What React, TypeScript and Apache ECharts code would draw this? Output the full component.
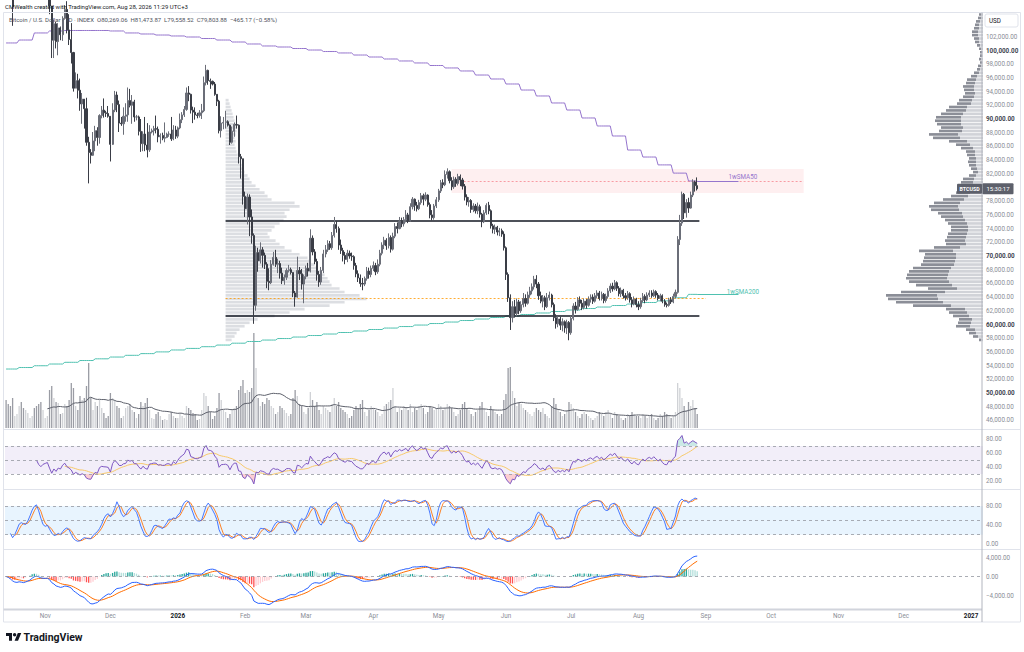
import React, { useEffect, useRef } from "react";
import * as echarts from "echarts";

// ---------- DATA (prices in thousands of USD, daily from 2025-10-14) ----------
const FIRST_DAY_UTC = Date.UTC(2025, 9, 14);
const DAY_COUNT = 450; // category slots up to 2027-01-06
const FIRST_OPEN_K = 115.2;

const closeK = [
  113.0,110.8,108.2,106.4,107.2,108.6,110.5,108.4,107.6,110.1,111.0,111.6,114.5,114.1,112.9,110.0,108.3,109.6,
  110.1,110.6,106.5,101.5,103.9,101.3,103.3,102.3,104.7,106.0,103.0,101.6,99.7,94.5,95.6,94.2,92.2,92.9,91.5,86.6,85.1,84.7,86.8,88.3,87.3,90.5,91.3,90.9,90.8,90.4,
  86.3,91.3,93.5,92.1,89.4,89.3,90.4,90.6,92.7,92.0,92.5,90.3,90.3,88.2,86.4,87.8,86.2,85.5,88.1,88.3,88.6,88.5,87.4,87.6,87.2,87.3,87.8,87.8,87.1,88.4,87.5,
  88.7,89.9,90.6,91.4,93.8,93.6,91.3,91.0,90.6,90.5,90.9,91.2,95.3,97.1,95.6,95.5,95.1,93.6,92.6,88.3,89.4,89.5,89.6,89.1,86.6,88.2,89.2,89.1,84.5,84.2,78.7,
  76.9,78.6,75.7,73.0,62.8,70.5,69.3,70.9,70.1,68.8,66.3,66.1,68.8,69.8,68.8,68.9,67.5,66.4,66.9,67.9,68.0,67.6,64.6,64.0,67.9,67.4,65.9,67.0,
  68.2,67.8,72.6,70.6,69.2,67.3,66.2,67.9,70.3,70.9,71.8,71.2,73.0,74.6,74.0,71.6,70.8,70.1,69.5,70.4,70.0,69.9,68.6,67.4,66.8,66.0,65.9,66.7,67.8,67.3,68.2,
  68.6,67.7,68.8,70.4,71.6,72.3,71.5,72.7,71.0,72.9,74.3,74.0,75.1,74.7,75.3,76.0,75.2,77.2,78.3,77.4,76.9,77.8,78.8,78.3,78.9,77.5,76.0,75.6,77.3,78.2,
  79.5,80.7,80.4,81.9,82.3,81.0,80.1,81.2,80.6,81.6,81.1,80.2,78.6,77.9,78.1,76.8,77.3,76.6,77.2,76.1,75.0,76.3,77.4,76.6,74.4,73.9,74.2,73.5,73.7,73.2,71.2,
  67.3,63.9,61.0,62.6,61.6,63.3,62.0,62.9,63.8,63.1,64.3,64.9,65.5,66.6,65.9,64.2,63.4,63.9,62.6,63.9,64.3,62.9,61.0,60.1,60.8,59.9,60.4,59.5,60.3,58.8,
  60.9,62.7,62.2,63.6,63.1,62.5,63.4,62.8,63.7,64.0,63.4,64.2,64.6,63.8,64.4,63.5,64.1,64.9,65.6,65.2,66.1,65.3,64.5,65.0,64.2,63.9,64.5,63.6,63.0,63.7,62.9,
  62.6,63.5,64.1,63.6,64.3,64.6,64.2,64.8,64.3,63.8,64.2,63.4,62.9,62.8,63.6,63.3,64.1,64.7,72.4,74.8,79.0,76.3,77.8,77.0,78.9,80.8,80.26906,79.80388,
];
const highK = [
  115.9,113.6,111.0,109.2,107.5,109.4,111.7,114.0,109.1,110.9,112.0,111.9,115.0,116.1,116.0,113.6,111.6,111.1,
  110.6,111.2,110.7,106.5,104.5,104.2,104.0,103.5,105.0,106.6,107.2,105.3,104.0,99.8,96.8,96.6,95.9,93.8,92.9,93.1,87.4,85.6,88.1,89.0,88.8,90.7,91.9,93.0,91.2,91.9,
  90.4,92.3,94.1,94.0,92.7,90.3,91.7,92.3,94.6,94.4,93.5,92.8,90.6,90.5,90.0,88.2,90.3,89.4,89.1,88.6,89.0,90.5,88.9,87.9,88.0,89.5,88.0,88.2,90.3,89.1,89.0,
  88.9,90.8,91.0,91.9,94.6,94.8,93.7,91.8,91.7,90.9,91.3,92.2,96.2,97.9,97.2,95.9,95.6,95.4,93.5,92.8,90.4,90.3,91.2,89.8,89.2,88.9,89.5,90.5,89.2,84.9,84.1,
  79.4,79.1,79.0,76.8,73.3,71.5,71.2,72.0,71.3,70.5,69.1,68.2,69.4,70.6,70.9,69.6,69.3,68.3,67.3,68.2,68.7,68.3,67.6,64.9,69.9,68.4,68.1,67.3,
  68.6,69.0,73.9,73.0,71.0,69.6,67.8,68.4,70.9,71.6,72.3,72.2,73.5,75.7,75.1,74.3,72.4,71.2,70.6,70.9,70.8,70.5,70.1,69.0,67.9,67.3,66.8,67.0,68.4,68.3,68.6,
  69.2,69.0,69.5,70.9,72.0,72.8,72.6,73.3,73.0,73.4,74.8,74.9,75.7,75.6,75.7,76.7,76.3,77.7,78.6,78.4,77.9,78.2,79.2,79.1,79.3,79.0,77.8,76.7,77.6,78.6,
  79.8,81.1,81.2,82.5,82.8,82.5,81.5,81.6,81.5,82.0,81.9,81.4,80.5,79.0,78.6,78.3,77.7,77.6,77.8,77.5,76.3,76.7,77.7,77.9,76.8,74.7,74.6,74.4,74.1,74.0,73.6,
  71.4,67.6,64.4,63.4,63.6,63.8,63.6,63.4,64.6,64.4,64.8,65.5,66.0,67.1,67.2,66.2,64.8,64.3,64.2,64.6,64.8,64.5,63.2,61.5,61.2,61.1,60.9,60.6,60.7,60.5,
  61.3,63.1,63.3,64.0,64.1,63.6,63.8,63.7,64.1,64.4,64.4,64.6,65.0,64.9,64.8,64.6,64.5,65.3,66.0,66.1,66.5,66.3,65.6,65.4,65.2,64.6,64.9,64.7,64.0,64.1,63.9,
  63.4,63.9,64.6,64.4,64.7,65.0,65.0,65.1,65.0,64.6,64.5,64.4,63.7,63.2,63.9,64.0,64.5,65.1,72.9,76.0,79.4,79.2,78.3,78.5,79.4,81.2,81.0,81.47387,
];
const lowK = [
  110.2,110.2,107.5,103.6,106.3,106.1,107.5,107.4,106.7,107.5,109.6,110.8,111.3,113.9,112.3,109.5,106.3,108.0,
  109.4,109.8,105.3,98.9,98.9,100.3,99.3,101.5,101.4,104.5,102.5,100.8,98.1,94.0,94.6,93.0,91.2,89.3,88.6,86.1,80.6,83.5,84.6,85.3,86.1,86.4,90.1,90.2,90.3,90.2,
  83.8,86.2,91.0,91.0,88.1,89.0,87.7,89.6,89.6,91.7,89.3,89.6,89.8,87.6,85.2,85.3,85.3,84.4,85.2,87.9,87.6,87.9,86.6,86.4,86.9,86.6,87.2,87.4,86.8,86.9,87.1,
  87.2,88.5,89.4,90.3,91.2,92.6,90.8,89.4,89.9,90.1,90.2,90.0,91.0,94.9,95.0,94.4,94.9,93.4,91.9,87.9,87.3,88.5,88.6,88.9,86.2,86.4,87.4,88.6,83.5,81.3,77.5,
  75.7,74.6,72.9,71.8,60.1,62.0,67.7,68.9,68.3,68.1,65.3,65.0,65.9,68.6,68.4,67.5,66.7,65.9,65.8,66.5,67.6,67.3,64.0,62.6,63.9,66.5,65.1,63.1,
  66.6,67.0,67.6,70.1,68.8,66.4,65.5,65.8,67.5,69.8,70.6,70.9,70.9,72.7,73.4,70.9,70.3,69.2,68.8,69.1,69.6,69.3,68.0,66.9,66.2,65.5,65.0,65.6,66.4,66.7,66.9,
  67.8,67.2,67.4,68.5,70.1,71.0,70.9,71.1,70.5,70.8,72.6,73.3,73.9,74.2,74.3,74.9,74.8,75.0,76.8,76.6,76.5,76.7,77.5,77.4,78.0,77.2,75.5,75.2,75.3,77.0,
  77.9,79.2,79.9,80.2,81.3,80.6,79.6,79.8,80.1,80.3,80.2,79.7,78.1,77.4,77.2,76.3,76.4,76.2,76.1,75.6,74.2,74.8,76.0,76.1,74.0,73.3,73.2,73.0,72.9,72.8,70.8,
  66.5,63.3,59.2,60.3,61.0,61.2,61.5,61.7,62.5,62.6,62.9,63.9,64.4,65.1,65.3,63.6,63.1,62.5,62.1,62.4,63.5,62.5,60.5,59.4,59.6,59.2,59.0,58.8,58.6,57.7,
  58.5,60.6,61.6,62.0,62.6,62.1,62.2,62.3,62.6,63.2,63.0,63.2,63.8,63.5,63.5,63.1,63.2,63.8,64.6,64.8,65.0,64.9,64.1,64.0,63.8,63.5,63.6,63.2,62.5,62.8,62.5,
  62.1,62.3,63.2,63.1,63.4,64.0,63.9,64.0,63.9,63.5,63.4,63.1,62.6,62.5,62.6,63.0,63.1,63.8,64.5,71.6,74.4,75.4,75.6,76.3,76.9,78.6,79.4,79.55852,
];
// relative daily volume
const volume = [
  28,24,22,30,12,14,22,26,20,18,15,10,12,20,22,24,26,18,
  10,12,38,42,30,26,25,14,15,24,22,28,45,40,22,18,32,28,30,42,65,30,18,26,22,28,20,15,10,12,
  35,30,28,22,20,10,12,20,22,24,18,16,10,14,26,22,25,30,18,10,9,14,16,12,8,9,8,14,16,12,10,
  10,14,12,10,22,20,18,15,14,8,9,18,35,32,22,16,9,12,20,35,28,18,16,10,14,18,20,22,38,42,48,
  35,38,36,40,95,60,30,22,26,24,30,28,22,20,14,16,22,20,18,15,12,14,30,38,32,24,22,16,
  14,20,36,28,22,26,18,14,22,20,18,16,24,30,22,26,20,18,16,14,10,12,18,22,20,24,28,16,12,18,22,
  20,18,16,12,14,22,24,26,28,40,22,16,20,18,22,20,18,24,16,20,18,22,24,20,14,16,22,20,18,20,
  24,22,18,20,24,22,20,16,12,14,18,24,26,20,18,14,12,16,18,22,26,20,16,12,22,18,16,14,12,14,28,
  34,60,61,37,30,22,25,24,20,18,16,14,12,16,20,18,16,20,14,12,10,22,30,24,18,16,12,14,18,26,
  24,20,16,12,10,14,16,14,12,10,8,10,12,16,14,12,16,18,14,10,16,14,12,10,8,10,14,12,16,14,12,
  12,10,14,12,10,12,14,10,8,10,14,12,16,14,12,10,12,16,45,40,30,22,18,26,22,28,20,14,
];
// weekly SMA values (thousands), one per week starting Mon 2025-10-13
const sma50Weekly = [
  101.10,101.53,102.56,102.85,102.92,102.92,102.92,102.85,102.56,102.41,
  102.26,102.12,101.97,101.75,101.53,101.24,100.95,100.66,100.51,100.29,
  100.07,99.85,99.64,99.34,99.05,98.76,98.47,98.18,97.81,97.45,
  97.01,96.42,95.84,95.11,94.23,93.36,92.34,91.31,90.15,88.98,
  87.52,85.47,84.45,83.30,82.10,80.95,
];
const sma200Weekly = [
  53.50,53.72,53.98,54.23,54.48,54.74,54.99,55.25,55.50,55.75,
  56.00,56.28,56.51,56.76,57.00,57.27,57.52,57.73,57.95,58.17,
  58.39,58.61,58.83,59.05,59.27,59.48,59.70,59.92,60.14,60.36,
  60.58,60.80,61.02,61.24,61.46,61.68,61.90,62.11,62.33,62.55,
  62.77,62.99,63.21,63.45,63.90,64.40,
];
// visible-range volume profile (right), rows of 500 USD starting at 57,500
const VP_ROW_MIN = 44000;
const VP_ROW_SIZE = 500;
const VP_ROW_COUNT = 124;
const vpRightFirst = 57500;
const vpRightTotal = [
  4,10,14,17,27,25,24,30,34,37, 70,87,95,97,82,55,67,74,77,76,
  74,70,62,60,59,58,64,49,37,38, 36,35,32,32,35,38,42,45,52,54,
  49,40,32,27,25,24,22,20,14,10, 12,14,15,14,16,17,22,27,34,50,
  54,44,42,46,48,47,42,37,34,26, 24,20,18,19,20,17,16,12,9,6,
  5,3,4,3,3,4,6,8,9,11, 11,9,8,7,5,4,
];
const vpRightUp = [
  2,5,7,8,13,12,11,14,16,18, 32,40,45,46,38,26,31,34,36,35,
  34,32,29,28,27,27,30,23,17,18, 17,16,15,15,16,18,20,21,24,25,
  23,19,15,13,12,11,10,9,7,5, 6,7,7,7,8,8,10,13,16,23,
  25,21,20,22,22,22,20,17,16,12, 11,9,8,9,9,8,7,6,4,3,
  2,1,2,1,1,2,3,4,4,5, 5,4,4,3,2,2,
];
// anchored volume profile (left, from 2026-01-23), rows of 500 USD from 57,500
const vpLeftFirst = 57500;
const vpLeft = [
  6,9,11,14,19,24,32,49,64,79, 104,119,141,134,119,114,106,104,102,99,
  96,92,89,84,82,74,66,59,54,50, 44,42,46,49,54,58,61,59,64,74,
  69,46,42,39,34,30,26,24,22,19, 17,16,15,14,12,11,10,9,10,9,
  10,11,11,10,9,8,7,6,5,4, 3,
];
// drawn levels
const levelFrom = "2026-01-23";
const levelTo = "2026-08-29";
const resistance = 75110;
const support = 61240;
const pocLevel = 63870;
const pocTo = "2026-09-01";
const zoneFrom = "2026-05-07";
const zoneTo = "2026-10-16";
const zoneTop = 82700;
const zoneBottom = 79200;
const zoneMid = 80900;
const smaLineTo = "2026-09-16";
const smaLabelAt = "2026-09-18";
const sma50Label = { text: "1wSMA50", value: 80950, labelValue: 81530 };
const sma200Label = { text: "1wSMA200", value: 64400, labelValue: 64750 };

// ---------- helpers ----------
const MONTHS = ["Jan","Feb","Mar","Apr","May","Jun","Jul","Aug","Sep","Oct","Nov","Dec"];
const dates: string[] = Array.from({ length: DAY_COUNT }, (_, i) =>
  new Date(FIRST_DAY_UTC + i * 86400000).toISOString().slice(0, 10)
);
const LAST_CLOSE = closeK[closeK.length - 1] * 1000;

function ema(src: number[], n: number): number[] {
  const k = 2 / (n + 1);
  const out: number[] = [];
  src.forEach((v, i) => out.push(i === 0 ? v : v * k + out[i - 1] * (1 - k)));
  return out;
}
function sma(src: (number | null)[], n: number): (number | null)[] {
  return src.map((_, i) => {
    if (i < n - 1) return null;
    const w = src.slice(i - n + 1, i + 1);
    if (w.some((x) => x == null)) return null;
    return (w as number[]).reduce((a, b) => a + b, 0) / n;
  });
}
function rsi(c: number[], n = 14): (number | null)[] {
  const out: (number | null)[] = new Array(c.length).fill(null);
  let g = 0, l = 0;
  for (let i = 1; i < c.length; i++) {
    const d = c[i] - c[i - 1];
    const up = Math.max(d, 0), dn = Math.max(-d, 0);
    if (i <= n) {
      g += up; l += dn;
      if (i === n) { g /= n; l /= n; out[i] = l === 0 ? 100 : 100 - 100 / (1 + g / l); }
    } else {
      g = (g * (n - 1) + up) / n; l = (l * (n - 1) + dn) / n;
      out[i] = l === 0 ? 100 : 100 - 100 / (1 + g / l);
    }
  }
  return out;
}
function stochRaw(c: number[], h: number[], l: number[], n = 14): number[] {
  return c.map((v, i) => {
    const s = Math.max(0, i - n + 1);
    const hh = Math.max(...h.slice(s, i + 1));
    const ll = Math.min(...l.slice(s, i + 1));
    return hh === ll ? 50 : (100 * (v - ll)) / (hh - ll);
  });
}
const fmt2 = (v: number) => v.toLocaleString("en-US", { minimumFractionDigits: 2, maximumFractionDigits: 2 });

const LOGO_D = "M14 22H7V11H0V4h14v18zM28 22h-8l7.5-18h8L28 22zM24 8a4 4 0 1 1-8 0a4 4 0 1 1 8 0z";
let logoReady = false;
function ensureLogo() {
  if (logoReady) return;
  echarts.graphic.registerShape("tvlogo", (echarts.graphic as any).extendPath(LOGO_D, {}));
  logoReady = true;
}

const FONT = "Roboto";
const LABEL_GREY = "#8a8d96";
const PLOT_L = 5;
const PLOT_W = 978;
const BAND = PLOT_W / DAY_COUNT;
const MAIN_TOP = 9.4;
const MAIN_H = 424.7;

function buildOption() {
  const close = closeK.map((v) => v * 1000);
  const open = close.map((_, i) => (i === 0 ? FIRST_OPEN_K * 1000 : close[i - 1]));
  const high = highK.map((v, i) => Math.max(v * 1000, open[i], close[i]));
  const low = lowK.map((v, i) => Math.min(v * 1000, open[i], close[i]));
  const candles = close.map((c, i) => [open[i], c, low[i], high[i]]);

  const volItems = volume.map((v, i) => ({
    value: v,
    itemStyle: { color: close[i] >= open[i] ? "rgba(170,173,181,0.55)" : "rgba(120,123,134,0.75)" },
  }));
  const volMa = sma(volume, 20);

  const sma50 = close.map((_, i) => sma50Weekly[Math.floor((i + 1) / 7)] * 1000);
  const sma200 = close.map((_, i) => sma200Weekly[Math.floor((i + 1) / 7)] * 1000);

  const r = rsi(close);
  const rMa = sma(r, 14);
  const obBase = r.map((v) => (v == null ? null : 70));
  const obFill = r.map((v) => (v == null ? null : Math.max(0, v - 70)));
  const osBase = r.map((v) => (v == null ? null : Math.min(v, 30)));
  const osFill = r.map((v) => (v == null ? null : 30 - Math.min(v, 30)));

  const k = sma(stochRaw(close, high, low), 3);
  const d = sma(k, 3);

  const e12 = ema(close, 12);
  const e26 = ema(close, 26);
  const macd = e12.map((v, i) => v - e26[i]);
  const signal = ema(macd, 9);
  const hist = macd.map((v, i) => v - signal[i]);
  const histItems = hist.map((h, i) => {
    const prev = i === 0 ? 0 : hist[i - 1];
    const color = h >= 0 ? (h >= prev ? "#26a69a" : "#b2dfdb") : h < prev ? "#ff5252" : "#ffcdd2";
    return { value: h, itemStyle: { color } };
  });

  const rows = Array.from({ length: VP_ROW_COUNT }, (_, i) => String(VP_ROW_MIN + i * VP_ROW_SIZE));
  const toRows = (first: number, vals: number[]) => {
    const out: (number | null)[] = new Array(VP_ROW_COUNT).fill(null);
    const off = (first - VP_ROW_MIN) / VP_ROW_SIZE;
    vals.forEach((v, i) => (out[off + i] = v));
    return out;
  };
  const vpUpRows = toRows(vpRightFirst, vpRightUp);
  const vpDownRows = toRows(vpRightFirst, vpRightTotal.map((t, i) => t - vpRightUp[i]));
  const vpLeftRows = toRows(vpLeftFirst, vpLeft);

  const leftAnchor = PLOT_L + (dates.indexOf(levelFrom) + 0.5) * BAND;

  const catAxis = (gridIndex: number) => ({
    type: "category", gridIndex, data: dates, boundaryGap: true,
    axisLine: { show: false }, axisTick: { show: false }, axisLabel: { show: false }, splitLine: { show: false },
  });
  const rightAxis = (gridIndex: number, min: number, max: number, interval: number, fmt: (v: number) => string) => ({
    type: "value", gridIndex, position: "right", min, max, interval, scale: false,
    axisLine: { show: false }, axisTick: { show: false }, splitLine: { show: false },
    axisLabel: { fontSize: 6.3, color: LABEL_GREY, margin: 3, fontFamily: FONT, formatter: fmt },
  });
  const dashed = { color: "#9598a1", type: [3, 3] as any, width: 1, opacity: 0.8 };

  const grid = (top: number, height: number, left = PLOT_L, width = PLOT_W) => ({ left, top, width, height });

  const priceLabel = (v: number) => {
    if (v < 46000 || v > 102000) return "";
    if (Math.abs(v - LAST_CLOSE) < 1200) return ""; // hidden behind the last-price tag
    const s = fmt2(v);
    return v % 10000 === 0 ? `{b|${s}}` : s;
  };

  return {
    animation: false,
    backgroundColor: "#ffffff",
    textStyle: { fontFamily: FONT },
    grid: [
      grid(MAIN_TOP, MAIN_H),
      grid(328, 100),
      grid(425, 70),
      grid(496.4, 47.9),
      grid(538.5, 76),
      grid(560, 49),
      grid(MAIN_TOP, MAIN_H),
      grid(MAIN_TOP, MAIN_H, leftAnchor, PLOT_L + PLOT_W - leftAnchor),
    ],
    xAxis: [
      catAxis(0), catAxis(1), catAxis(2), catAxis(3), catAxis(4),
      {
        ...catAxis(5),
        axisLabel: {
          show: true, margin: 3.5, fontSize: 6.3, color: LABEL_GREY, fontFamily: FONT,
          interval: (_: number, v: string) => v.slice(8) === "01",
          formatter: (v: string) => {
            const m = Number(v.slice(5, 7));
            return m === 1 ? `{y|${v.slice(0, 4)}}` : MONTHS[m - 1];
          },
          rich: { y: { fontSize: 6.3, fontWeight: "bold", color: "#131722", fontFamily: FONT } },
        },
      },
      { type: "value", gridIndex: 6, inverse: true, min: 0, max: PLOT_W, show: false },
      { type: "value", gridIndex: 7, min: 0, max: PLOT_L + PLOT_W - leftAnchor, show: false },
    ],
    yAxis: [
      {
        ...rightAxis(0, 44000, 106000, 2000, priceLabel),
        axisLabel: {
          fontSize: 6.3, color: LABEL_GREY, margin: 3, fontFamily: FONT,
          formatter: priceLabel,
          rich: { b: { fontSize: 6.3, fontWeight: "bold", color: "#434651", fontFamily: FONT } },
        },
      },
      { type: "value", gridIndex: 1, min: 0, max: 100, show: false },
      rightAxis(2, 0, 100, 20, (v: number) => (v <= 0 || v >= 100 ? "" : fmt2(v))),
      rightAxis(3, 0, 100, 40, (v: number) => (v >= 100 ? "" : fmt2(v))),
      rightAxis(4, -8000, 8000, 4000, (v: number) =>
        Math.abs(v) >= 8000 ? "" : v < 0 ? "\u2212" + fmt2(-v) : fmt2(v)
      ),
      { type: "value", gridIndex: 5, show: false },
      { type: "category", gridIndex: 6, data: rows, show: false },
      { type: "category", gridIndex: 7, data: rows, show: false },
    ],
    series: [
      {
        type: "bar", xAxisIndex: 7, yAxisIndex: 7, data: vpLeftRows, barCategoryGap: "22%",
        itemStyle: { color: "rgba(178,181,190,0.45)" }, silent: true, z: 1,
      },
      {
        type: "bar", xAxisIndex: 6, yAxisIndex: 6, stack: "vpr", data: vpUpRows, barCategoryGap: "22%",
        itemStyle: { color: "rgba(178,181,190,0.6)" }, silent: true, z: 1,
      },
      {
        type: "bar", xAxisIndex: 6, yAxisIndex: 6, stack: "vpr", data: vpDownRows,
        itemStyle: { color: "#8b8e97" }, silent: true, z: 1,
      },
      { type: "bar", xAxisIndex: 1, yAxisIndex: 1, data: volItems, barWidth: "60%", silent: true, z: 1 },
      {
        type: "line", xAxisIndex: 1, yAxisIndex: 1, data: volMa, symbol: "none", silent: true,
        lineStyle: { color: "#5d606b", width: 1 }, z: 2,
      },
      {
        type: "line", xAxisIndex: 0, yAxisIndex: 0, data: sma50, symbol: "none", silent: true,
        lineStyle: { color: "#9575cd", width: 1 }, z: 3,
      },
      {
        type: "line", xAxisIndex: 0, yAxisIndex: 0, data: sma200, symbol: "none", silent: true,
        lineStyle: { color: "#4fc1b0", width: 1 }, z: 3,
      },
      {
        type: "candlestick", xAxisIndex: 0, yAxisIndex: 0, data: candles, barWidth: "75%", clip: true, z: 5,
        itemStyle: { color: "#6b6e78", color0: "#3a3d46", borderColor: "#6b6e78", borderColor0: "#3a3d46", borderWidth: 1 },
        markArea: {
          silent: true,
          itemStyle: { color: "rgba(242,54,69,0.08)" },
          data: [[{ coord: [zoneFrom, zoneTop] }, { coord: [zoneTo, zoneBottom] }]],
        },
        markLine: {
          silent: true, symbol: ["none", "none"], label: { show: false },
          data: [
            [{ coord: [levelFrom, resistance], lineStyle: { color: "#131722", width: 1.5, type: "solid" } }, { coord: [levelTo, resistance] }],
            [{ coord: [levelFrom, support], lineStyle: { color: "#131722", width: 1.5, type: "solid" } }, { coord: [levelTo, support] }],
            [{ coord: [levelFrom, pocLevel], lineStyle: { color: "#ff9800", width: 1, type: [2, 2], opacity: 0.8 } }, { coord: [pocTo, pocLevel] }],
            [{ coord: [zoneFrom, zoneMid], lineStyle: { color: "rgba(242,54,69,0.45)", width: 1, type: [2, 2] } }, { coord: [zoneTo, zoneMid] }],
            [{ coord: [dates[closeK.length - 1], sma50Label.value], lineStyle: { color: "#9575cd", width: 1, type: "solid" } }, { coord: [smaLineTo, sma50Label.value] }],
            [{ coord: [dates[closeK.length - 1], sma200Label.value], lineStyle: { color: "#4fc1b0", width: 1, type: "solid" } }, { coord: [smaLineTo, sma200Label.value] }],
          ],
        },
        markPoint: {
          silent: true, symbol: "circle", symbolSize: 1,
          itemStyle: { color: "rgba(0,0,0,0)" },
          label: { show: true, position: "inside", fontSize: 6.3, fontFamily: FONT },
          data: [
            { coord: [smaLabelAt, sma50Label.labelValue], label: { formatter: sma50Label.text, color: "#9575cd" } },
            { coord: [smaLabelAt, sma200Label.labelValue], label: { formatter: sma200Label.text, color: "#4fc1b0" } },
          ],
        },
      },
      // RSI
      {
        type: "line", xAxisIndex: 2, yAxisIndex: 2, stack: "ob", data: obBase, symbol: "none", silent: true,
        lineStyle: { opacity: 0 },
      },
      {
        type: "line", xAxisIndex: 2, yAxisIndex: 2, stack: "ob", data: obFill, symbol: "none", silent: true,
        lineStyle: { opacity: 0 }, areaStyle: { color: "rgba(38,166,154,0.35)" },
      },
      {
        type: "line", xAxisIndex: 2, yAxisIndex: 2, stack: "os", data: osBase, symbol: "none", silent: true,
        lineStyle: { opacity: 0 },
      },
      {
        type: "line", xAxisIndex: 2, yAxisIndex: 2, stack: "os", data: osFill, symbol: "none", silent: true,
        lineStyle: { opacity: 0 }, areaStyle: { color: "rgba(242,54,69,0.35)" },
      },
      {
        type: "line", xAxisIndex: 2, yAxisIndex: 2, data: r, symbol: "none", silent: true,
        lineStyle: { color: "#7e57c2", width: 1 }, z: 4,
        markArea: { silent: true, itemStyle: { color: "rgba(126,87,194,0.1)" }, data: [[{ yAxis: 30 }, { yAxis: 70 }]] },
        markLine: { silent: true, symbol: ["none", "none"], label: { show: false }, lineStyle: dashed, data: [{ yAxis: 70 }, { yAxis: 50 }, { yAxis: 30 }] },
      },
      {
        type: "line", xAxisIndex: 2, yAxisIndex: 2, data: rMa, symbol: "none", silent: true,
        lineStyle: { color: "#f7c96b", width: 1 }, z: 3,
      },
      // Stochastic
      {
        type: "line", xAxisIndex: 3, yAxisIndex: 3, data: k, symbol: "none", silent: true,
        lineStyle: { color: "#2962ff", width: 1, opacity: 0.85 }, z: 4,
        markArea: { silent: true, itemStyle: { color: "rgba(33,150,243,0.1)" }, data: [[{ yAxis: 20 }, { yAxis: 80 }]] },
        markLine: { silent: true, symbol: ["none", "none"], label: { show: false }, lineStyle: dashed, data: [{ yAxis: 80 }, { yAxis: 50 }, { yAxis: 20 }] },
      },
      {
        type: "line", xAxisIndex: 3, yAxisIndex: 3, data: d, symbol: "none", silent: true,
        lineStyle: { color: "#ff6d00", width: 1, opacity: 0.85 }, z: 3,
      },
      // MACD
      {
        type: "bar", xAxisIndex: 4, yAxisIndex: 4, data: histItems, barWidth: "60%", silent: true,
        markLine: { silent: true, symbol: ["none", "none"], label: { show: false }, lineStyle: dashed, data: [{ yAxis: 0 }] },
      },
      {
        type: "line", xAxisIndex: 4, yAxisIndex: 4, data: macd, symbol: "none", silent: true,
        lineStyle: { color: "#2962ff", width: 1 }, z: 4,
      },
      {
        type: "line", xAxisIndex: 4, yAxisIndex: 4, data: signal, symbol: "none", silent: true,
        lineStyle: { color: "#ff6d00", width: 1 }, z: 3,
      },
      { type: "line", xAxisIndex: 5, yAxisIndex: 5, data: [], silent: true },
    ],
  };
}

function buildGraphics(tagY: number) {
  const text = (t: string, x: number, y: number, font: string, fill: string, align = "left") => ({
    type: "text", silent: true, z: 50,
    style: { text: t, x, y, font, fill, textAlign: align, textVerticalAlign: "middle" },
  });
  const line = (x1: number, y1: number, x2: number, y2: number, stroke: string, lineWidth = 1) => ({
    type: "line", silent: true, z: 40, shape: { x1, y1, x2, y2 }, style: { stroke, lineWidth },
  });
  return [
    { type: "rect", silent: true, z: 40, shape: { x: 3.5, y: 12.5, width: 1017, height: 609.5 }, style: { fill: "none", stroke: "#e0e3eb", lineWidth: 1 } },
    line(3.5, 429.5, 1020.5, 429.5, "#e0e3eb"),
    line(3.5, 489.5, 1020.5, 489.5, "#e0e3eb"),
    line(3.5, 549.5, 1020.5, 549.5, "#e0e3eb"),
    line(3.5, 609.5, 982, 609.5, "#d1d4dc", 2),
    line(982, 12.5, 982, 622, "#b2b5be"),
    { type: "rect", silent: true, z: 41, shape: { x: 985, y: 14, width: 33, height: 13, r: 2 }, style: { fill: "#ffffff", stroke: "#e0e3eb", lineWidth: 1 } },
    text("USD", 989, 20.5, `6.3px ${FONT}`, "#131722"),
    text("CMWealth created with TradingView.com, Aug 28, 2026 11:29 UTC+3", 5, 6.5, `6px ${FONT}`, "#131722"),
    text(
      "Bitcoin / U.S. Dollar \u00b7 1D \u00b7 INDEX  O80,269.06  H81,473.87  L79,558.52  C79,803.88  \u2212465.17 (\u22120.58%)",
      9, 19, `6px ${FONT}`, "#50535e"
    ),
    { type: "rect", silent: true, z: 45, shape: { x: 957, y: tagY - 5, width: 25, height: 10, r: 1 }, style: { fill: "#5d606b" } },
    text("BTCUSD", 969.5, tagY, `bold 5.3px ${FONT}`, "#ffffff", "center"),
    { type: "rect", silent: true, z: 45, shape: { x: 982.5, y: tagY - 5.5, width: 31, height: 11, r: 1 }, style: { fill: "#5d606b" } },
    text("15:30:17", 998, tagY, `6px ${FONT}`, "#ffffff", "center"),
    { type: "tvlogo", silent: true, z: 50, x: 6, y: 631.3, scaleX: 0.43, scaleY: 0.43, style: { fill: "#131722" } },
    text("TradingView", 23.5, 637.5, `bold 10.5px ${FONT}`, "#131722"),
  ];
}

export default function App() {
  const ref = useRef<HTMLDivElement>(null);
  useEffect(() => {
    if (!ref.current) return;
    ensureLogo();
    const chart = echarts.init(ref.current, null, { renderer: "svg" });
    chart.setOption(buildOption() as any);
    const tagY = chart.convertToPixel({ yAxisIndex: 0 } as any, LAST_CLOSE) as number;
    chart.setOption({ graphic: buildGraphics(tagY) } as any);
    return () => chart.dispose();
  }, []);
  return (
    <div
      ref={ref}
      style={{ position: "absolute", left: 0, top: 0, width: 1024, height: 652, background: "#ffffff" }}
    />
  );
}
